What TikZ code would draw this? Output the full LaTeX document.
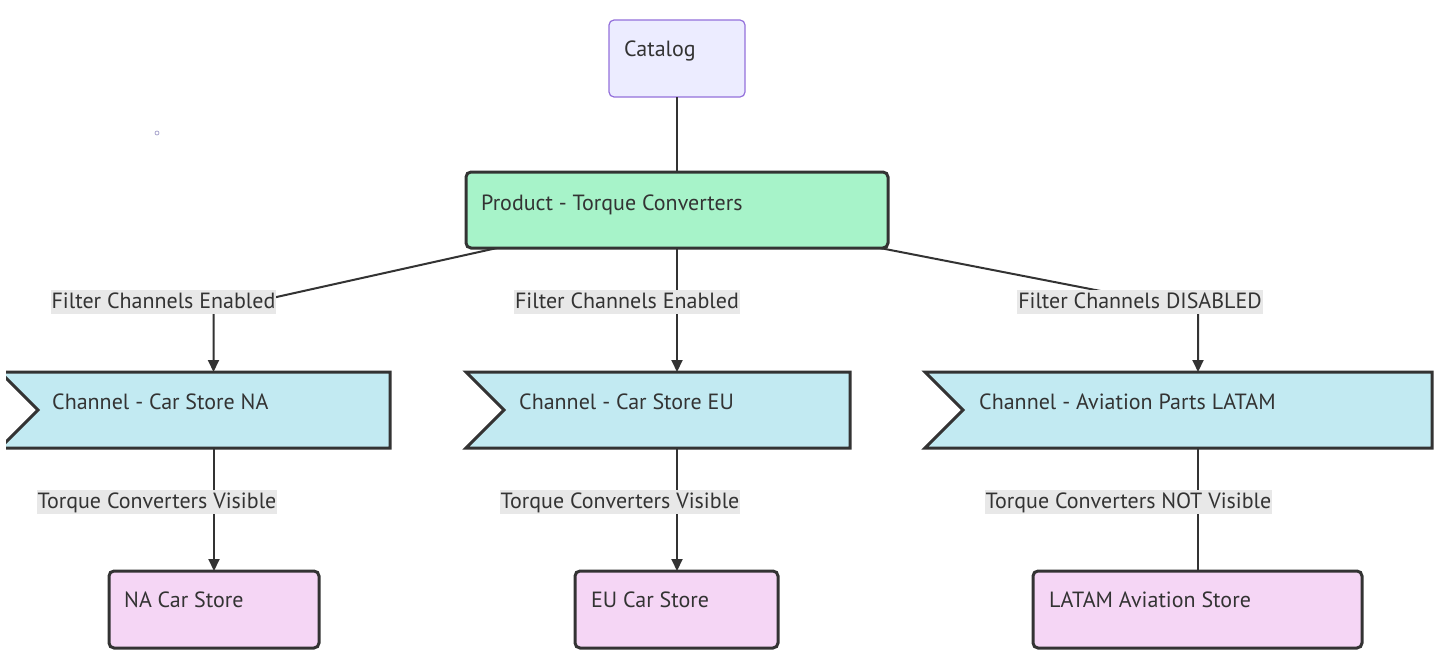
\documentclass[tikz,border=0pt]{standalone}
\usepackage{fontspec}
\setmainfont{PT Sans}
\usetikzlibrary{calc,arrows.meta}
\definecolor{ink}{HTML}{333333}
\definecolor{catfill}{HTML}{ECECFF}
\definecolor{catline}{HTML}{9370DB}
\definecolor{prodfill}{HTML}{A7F3C9}
\definecolor{chanfill}{HTML}{C2EAF2}
\definecolor{storefill}{HTML}{F5D6F5}
\definecolor{lblfill}{HTML}{E8E8E8}
\definecolor{dotline}{HTML}{A8A4CC}
\tikzset{
  txt/.style={anchor=base west, inner sep=0pt, text=ink, font=\fontsize{22}{26}\selectfont},
  box/.style={anchor=north west, inner sep=0pt, outer sep=0pt, rounded corners=5pt, line width=3pt, draw=ink},
  frame/.style={anchor=north west, inner sep=0pt, outer sep=0pt, minimum height=76pt},
  chanline/.style={line width=3pt, draw=ink, fill=chanfill, line join=miter},
  edge/.style={line width=2pt, draw=ink},
  arr/.style={edge, -{Triangle[length=12pt,width=11pt]}},
  lbl/.style={anchor=base, fill=lblfill, text=ink, inner xsep=1pt, inner ysep=1pt, text height=17pt, text depth=4.5pt, font=\fontsize{22}{26}\selectfont},
}
\begin{document}
\begin{tikzpicture}[x=1pt,y=-1pt]
\useasboundingbox (0,0) rectangle (1451,669);
% nodes
\node[box, draw=catline, line width=1.2pt, fill=catfill, minimum width=136pt, minimum height=77pt] (cat) at (609,20) {};
\node[txt] (catT) at (624,57) {Catalog};
\node[box, fill=prodfill, minimum width=422pt, minimum height=76pt] (prod) at (466,172) {};
\node[txt] (prodT) at (481,210) {Product - Torque Converters};
% channels
\node[frame, minimum width=390pt] (na) at (0,372) {};
\node[frame, minimum width=384pt] (eu) at (466,372) {};
\node[frame, minimum width=507pt] (la) at (925,372) {};
\begin{scope}
\clip (6,0) rectangle (1451,669);
\path[chanline] (na.north west) -- (na.north east) -- (na.south east) -- (na.south west) -- ($(na.west)+(38,0)$) -- cycle;
\end{scope}
\path[chanline] (eu.north west) -- (eu.north east) -- (eu.south east) -- (eu.south west) -- ($(eu.west)+(38,0)$) -- cycle;
\path[chanline] (la.north west) -- (la.north east) -- (la.south east) -- (la.south west) -- ($(la.west)+(38,0)$) -- cycle;
\node[txt] (naT) at (52,409) {Channel - Car Store NA};
\node[txt] (euT) at (519,409) {Channel - Car Store EU};
\node[txt] (laT) at (979,409) {Channel - Aviation Parts LATAM};
% stores
\node[box, fill=storefill, minimum width=210pt, minimum height=77pt] (sna) at (109,571) {};
\node[txt] (snaT) at (124,607) {NA Car Store};
\node[box, fill=storefill, minimum width=203pt, minimum height=77pt] (seu) at (575,571) {};
\node[txt] (seuT) at (591,607) {EU Car Store};
\node[box, fill=storefill, minimum width=329pt, minimum height=77pt] (sla) at (1033,571) {};
\node[txt] (slaT) at (1049,607) {LATAM Aviation Store};
% stray dot
\draw[dotline, line width=0.8pt] (157,133) circle (2pt);
% bend points
\coordinate (k1) at (213.5,311);
\coordinate (k3) at (1198,310);
\coordinate (k4) at (214,448);
\coordinate (k5) at (1198,448);
% edges
\draw[edge] (cat.south) -- (prod.north);
\draw[arr] ($(prod.south west)+(31,0)$) -- (k1) -- (k1 |- na.north);
\draw[arr] (prod.south) -- (prod.south |- eu.north);
\draw[arr] ($(prod.south east)+(-8,0)$) -- (k3) -- (k3 |- la.north);
\draw[arr] (k4) -- (k4 |- sna.north);
\draw[arr] (prod.south |- eu.south) -- (prod.south |- seu.north);
\draw[edge] (k5) -- (k5 |- sla.north);
% labels
\node[lbl] (l1) at (163.5,308) {Filter Channels Enabled};
\node[lbl] (l2) at (627,308) {Filter Channels Enabled};
\node[lbl] (l3) at (1140,308) {Filter Channels DISABLED};
\node[lbl] (l4) at (157,508) {Torque Converters Visible};
\node[lbl] (l5) at (620,508) {Torque Converters Visible};
\node[lbl] (l6) at (1128.5,508) {Torque Converters NOT Visible};
\end{tikzpicture}
\end{document}
